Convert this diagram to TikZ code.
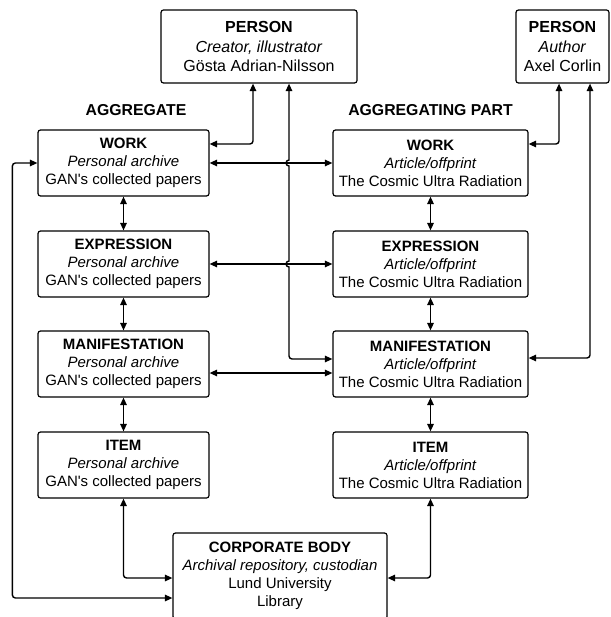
\documentclass[tikz,border=0pt]{standalone}
\usepackage{fontspec}
\newfontfamily\diagfont{Liberation Sans}
\usetikzlibrary{arrows.meta}

\begin{document}
\begin{tikzpicture}[x=1pt,y=-1pt,
  box/.style={draw, line width=1.2pt, rounded corners=2.5pt, fill=white,
    align=center, inner sep=0pt, font=\diagfont\fontsize{15}{18}\selectfont},
  colL/.style={box, minimum width=171pt, minimum height=66pt},
  colR/.style={box, minimum width=195pt, minimum height=66pt},
  person/.style={box, minimum height=73pt, font=\diagfont\fontsize{16}{19.5}\selectfont},
  heading/.style={font=\diagfont\fontsize{15.8}{19}\selectfont\bfseries},
  tip/.tip={Triangle[length=7.5pt,width=6.5pt]},
  link/.style={line width=1.4pt, tip-tip, rounded corners=3pt},
]
\clip (0,0) rectangle (610,617);
\fill[white] (0,0) rectangle (610,617);

% persons
\node[person, minimum width=196pt] (p1) at (259,46.5)
  {\textbf{PERSON}\\\textit{Creator, illustrator}\\Gösta Adrian-Nilsson};
\node[person, minimum width=93pt] (p2) at (562.5,46.5)
  {\textbf{PERSON}\\\textit{Author}\\Axel Corlin};

% column headings
\node[heading] (hagg) at (136,110) {AGGREGATE};
\node[heading] (hpart) at (430.5,110) {AGGREGATING PART};

% aggregate column
\node[colL] (lw) at (123.5,163) {\textbf{WORK}\\\textit{Personal archive}\\GAN's collected papers};
\node[colL] (le) at (123.5,264) {\textbf{EXPRESSION}\\\textit{Personal archive}\\GAN's collected papers};
\node[colL] (lm) at (123.5,364) {\textbf{MANIFESTATION}\\\textit{Personal archive}\\GAN's collected papers};
\node[colL] (li) at (123.5,465) {\textbf{ITEM}\\\textit{Personal archive}\\GAN's collected papers};

% aggregating part column
\node[colR] (rw) at (430.5,163) {\textbf{WORK}\\\textit{Article/offprint}\\The Cosmic Ultra Radiation};
\node[colR] (re) at (430.5,264) {\textbf{EXPRESSION}\\\textit{Article/offprint}\\The Cosmic Ultra Radiation};
\node[colR] (rm) at (430.5,364) {\textbf{MANIFESTATION}\\\textit{Article/offprint}\\The Cosmic Ultra Radiation};
\node[colR] (ri) at (430.5,465) {\textbf{ITEM}\\\textit{Article/offprint}\\The Cosmic Ultra Radiation};

% custodian
\node[box, minimum width=214pt, minimum height=86pt] (corp) at (280,576)
  {\textbf{CORPORATE BODY}\\\textit{Archival repository, custodian}\\Lund University\\Library};

% vertical links within each column
\draw[link] (lw.south) -- (le.north);
\draw[link] (le.south) -- (lm.north);
\draw[link] (lm.south) -- (li.north);
\draw[link] (rw.south) -- (re.north);
\draw[link] (re.south) -- (rm.north);
\draw[link] (rm.south) -- (ri.north);

% links between the columns
\draw[link] (lw.east) -- (rw.west);
\draw[link] (le.east) -- (re.west);
\draw[link] ([yshift=-9pt]lm.east) -- ([yshift=-9pt]rm.west);

% persons to works and manifestation
\draw[link] ([xshift=-6pt]p1.south) |- ([yshift=19pt]lw.east);
\draw[link, sharp corners] ([xshift=30pt]p1.south) -- (289,160)
  arc[start angle=90, end angle=270, radius=3pt] -- (289,261)
  arc[start angle=90, end angle=270, radius=3pt]
  [rounded corners=3pt] |- ([yshift=5pt]rm.west);
\draw[link] ([xshift=-3.5pt]p2.south) |- ([yshift=19pt]rw.east);
\draw[link] ([xshift=27.5pt]p2.south) |- ([yshift=6pt]rm.east);

% items and aggregate work to the custodian
\draw[link] (li.south) |- ([yshift=-2pt]corp.west);
\draw[link] (ri.south) |- ([yshift=-2pt]corp.east);
\draw[link] (lw.west) -- ++(-25,0) |- ([yshift=-22pt]corp.west);
\end{tikzpicture}
\end{document}
